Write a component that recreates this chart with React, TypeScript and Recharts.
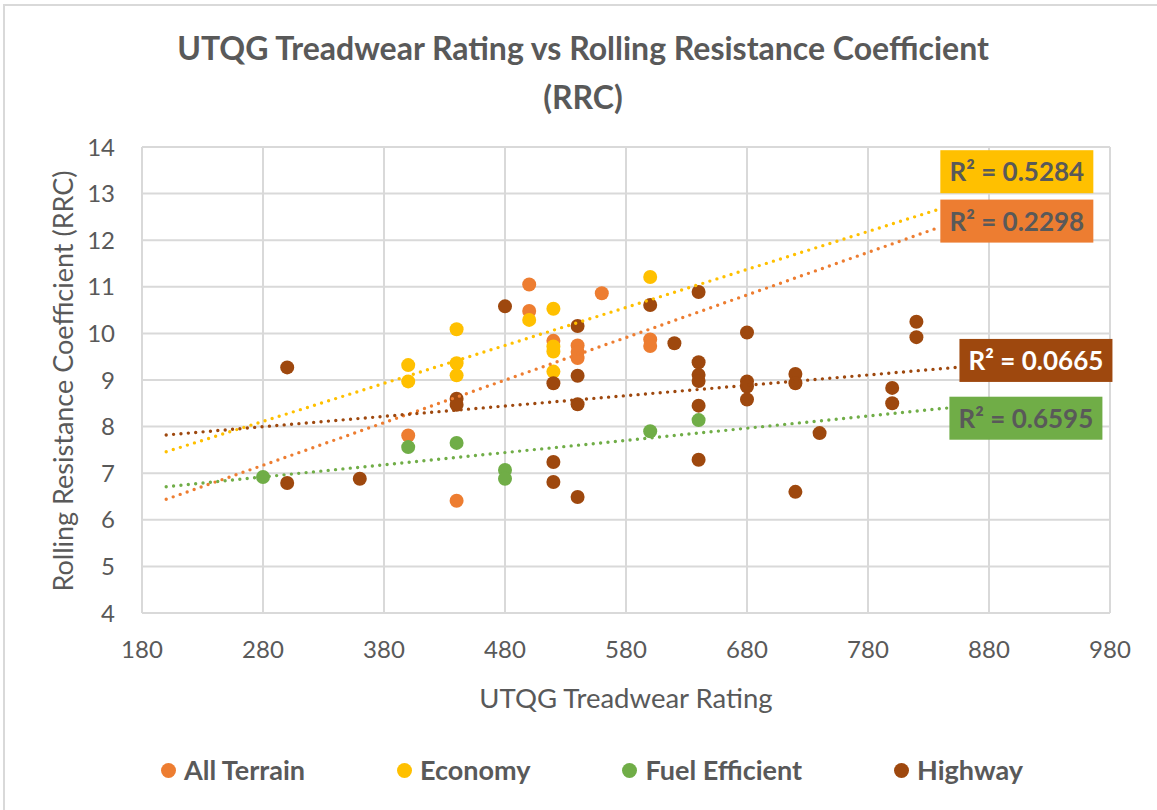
import {
  CartesianGrid,
  ReferenceDot,
  ReferenceLine,
  Scatter,
  ScatterChart,
  XAxis,
  YAxis,
} from "recharts";

const FONT = "Lato, 'Open Sans', sans-serif";
const TEXT = "#595959";
const GRID = "#D9D9D9";

const xTicks = [180, 280, 380, 480, 580, 680, 780, 880, 980];
const yTicks = [4, 5, 6, 7, 8, 9, 10, 11, 12, 13, 14];

// [treadwear, rrc]
const allTerrain: [number, number][] = [
  [400, 7.81], [440, 6.41], [500, 11.05], [500, 10.48], [520, 9.84],
  [540, 9.74], [540, 9.6], [540, 9.47], [560, 10.86], [600, 9.87], [600, 9.73],
];
const economy: [number, number][] = [
  [400, 9.32], [400, 8.97], [440, 10.09], [440, 9.36], [440, 9.1],
  [500, 10.29], [520, 10.53], [520, 9.72], [520, 9.61], [520, 9.18], [600, 11.21],
];
const fuelEfficient: [number, number][] = [
  [280, 6.92], [400, 7.56], [440, 7.65], [480, 7.07], [480, 6.88], [600, 7.9], [640, 8.14],
];
const highway: [number, number][] = [
  [300, 9.27], [300, 6.79], [360, 6.88], [440, 8.6], [440, 8.47], [480, 10.58],
  [520, 8.93], [520, 7.24], [520, 6.81], [540, 10.16], [540, 9.09], [540, 8.48],
  [540, 6.49], [600, 10.61], [620, 9.79], [640, 10.89], [640, 9.38], [640, 9.11],
  [640, 8.98], [640, 8.45], [640, 7.29], [680, 10.02], [680, 8.97], [680, 8.86],
  [680, 8.58], [720, 9.13], [720, 8.93], [720, 6.6], [740, 7.86], [800, 8.83],
  [800, 8.5], [820, 10.25], [820, 9.92],
];

const seriesNames = ["All Terrain", "Economy", "Fuel Efficient", "Highway"];
const seriesColors = ["#ED7D31", "#FFC000", "#70AD47", "#9E480E"];
const seriesPoints = [allTerrain, economy, fuelEfficient, highway];

// linear trendlines
const trendStart: [number, number][] = [[200, 6.44], [200, 7.46], [200, 6.71], [200, 7.82]];
const trendEnd: [number, number][] = [[836, 12.25], [838, 12.66], [846, 8.4], [853, 9.27]];
const rSquared = ["0.2298", "0.5284", "0.6595", "0.0665"];
const labelAnchors: [number, number][] = [[903, 12.41], [903, 13.47], [910.5, 8.18], [918.8, 9.42]];
const labelInk = [TEXT, TEXT, TEXT, "#FFFFFF"];

const tickStyle = { fill: TEXT, fontSize: 24, fontFamily: FONT };

function RBox({ cx, cy, fill, ink, text }: any) {
  return (
    <g>
      <rect x={cx - 76.5} y={cy - 21.5} width={153} height={43} fill={fill} />
      <text
        x={cx}
        y={cy + 9.5}
        textAnchor="middle"
        fill={ink}
        fontFamily={FONT}
        fontWeight={700}
        fontSize={26}
      >
        {text}
      </text>
    </g>
  );
}

export default function App() {
  return (
    <div
      style={{
        position: "absolute",
        left: 0,
        top: 0,
        width: 1157,
        height: 810,
        background: "#fff",
        overflow: "hidden",
        fontFamily: FONT,
      }}
    >
      <div
        style={{
          position: "absolute",
          left: 3,
          top: 4,
          width: 1200,
          height: 900,
          borderLeft: `2px solid ${GRID}`,
          borderTop: `2px solid ${GRID}`,
        }}
      />
      <div
        style={{
          position: "absolute",
          left: 0,
          top: 23,
          width: 1166,
          textAlign: "center",
          color: TEXT,
          fontWeight: 700,
          fontSize: 32,
          lineHeight: "49px",
        }}
      >
        UTQG Treadwear Rating vs Rolling Resistance Coefficient
        <br />
        (RRC)
      </div>
      <ScatterChart
        width={1157}
        height={810}
        margin={{ top: 147, right: 47, bottom: 167, left: 0 }}
        style={{ position: "absolute", left: 0, top: 0 }}
      >
        <CartesianGrid stroke={GRID} strokeWidth={2} />
        <XAxis
          type="number"
          dataKey="x"
          domain={[180, 980]}
          ticks={xTicks}
          height={30}
          axisLine={false}
          tickLine={false}
          tickSize={0}
          tickMargin={28}
          tick={tickStyle}
          interval={0}
        />
        <YAxis
          type="number"
          dataKey="y"
          domain={[4, 14]}
          ticks={yTicks}
          width={142}
          axisLine={false}
          tickLine={false}
          tickSize={0}
          tickMargin={27}
          tick={tickStyle}
          interval={0}
        />
        {seriesPoints.map((pts, i) => (
          <Scatter
            key={seriesNames[i]}
            name={seriesNames[i]}
            data={pts.map(([x, y]) => ({ x, y }))}
            fill={seriesColors[i]}
            isAnimationActive={false}
            shape={(p: any) => <circle cx={p.cx} cy={p.cy} r={7} fill={seriesColors[i]} />}
          />
        ))}
        {seriesNames.map((name, i) => (
          <ReferenceLine
            key={"trend-" + name}
            segment={[
              { x: trendStart[i][0], y: trendStart[i][1] },
              { x: trendEnd[i][0], y: trendEnd[i][1] },
            ]}
            stroke={seriesColors[i]}
            strokeWidth={3.4}
            strokeDasharray="0 7.4"
            strokeLinecap="round"
            zIndex={700}
          />
        ))}
        {seriesNames.map((name, i) => (
          <ReferenceDot
            key={"r2-" + name}
            x={labelAnchors[i][0]}
            y={labelAnchors[i][1]}
            zIndex={800}
            shape={(p: any) => (
              <RBox
                cx={p.cx}
                cy={p.cy}
                fill={seriesColors[i]}
                ink={labelInk[i]}
                text={`R² = ${rSquared[i]}`}
              />
            )}
          />
        ))}
      </ScatterChart>
      <div
        style={{
          position: "absolute",
          left: 62,
          top: 381,
          transform: "translate(-50%, -50%) rotate(-90deg)",
          whiteSpace: "nowrap",
          color: TEXT,
          fontSize: 27,
        }}
      >
        Rolling Resistance Coefficient (RRC)
      </div>
      <div
        style={{
          position: "absolute",
          left: 626,
          top: 697,
          transform: "translate(-50%, -50%)",
          whiteSpace: "nowrap",
          color: TEXT,
          fontSize: 27.5,
        }}
      >
        UTQG Treadwear Rating
      </div>
      <div
        style={{
          position: "absolute",
          left: 0,
          top: 751,
          width: 1184,
          display: "flex",
          justifyContent: "center",
          gap: 92,
          color: TEXT,
          fontSize: 27,
          fontWeight: 700,
          lineHeight: "38px",
        }}
      >
        {seriesNames.map((name, i) => (
          <div key={name} style={{ display: "flex", alignItems: "center", gap: 8 }}>
            <span
              style={{
                width: 15,
                height: 15,
                borderRadius: "50%",
                background: seriesColors[i],
                display: "inline-block",
              }}
            />
            <span>{name}</span>
          </div>
        ))}
      </div>
    </div>
  );
}
